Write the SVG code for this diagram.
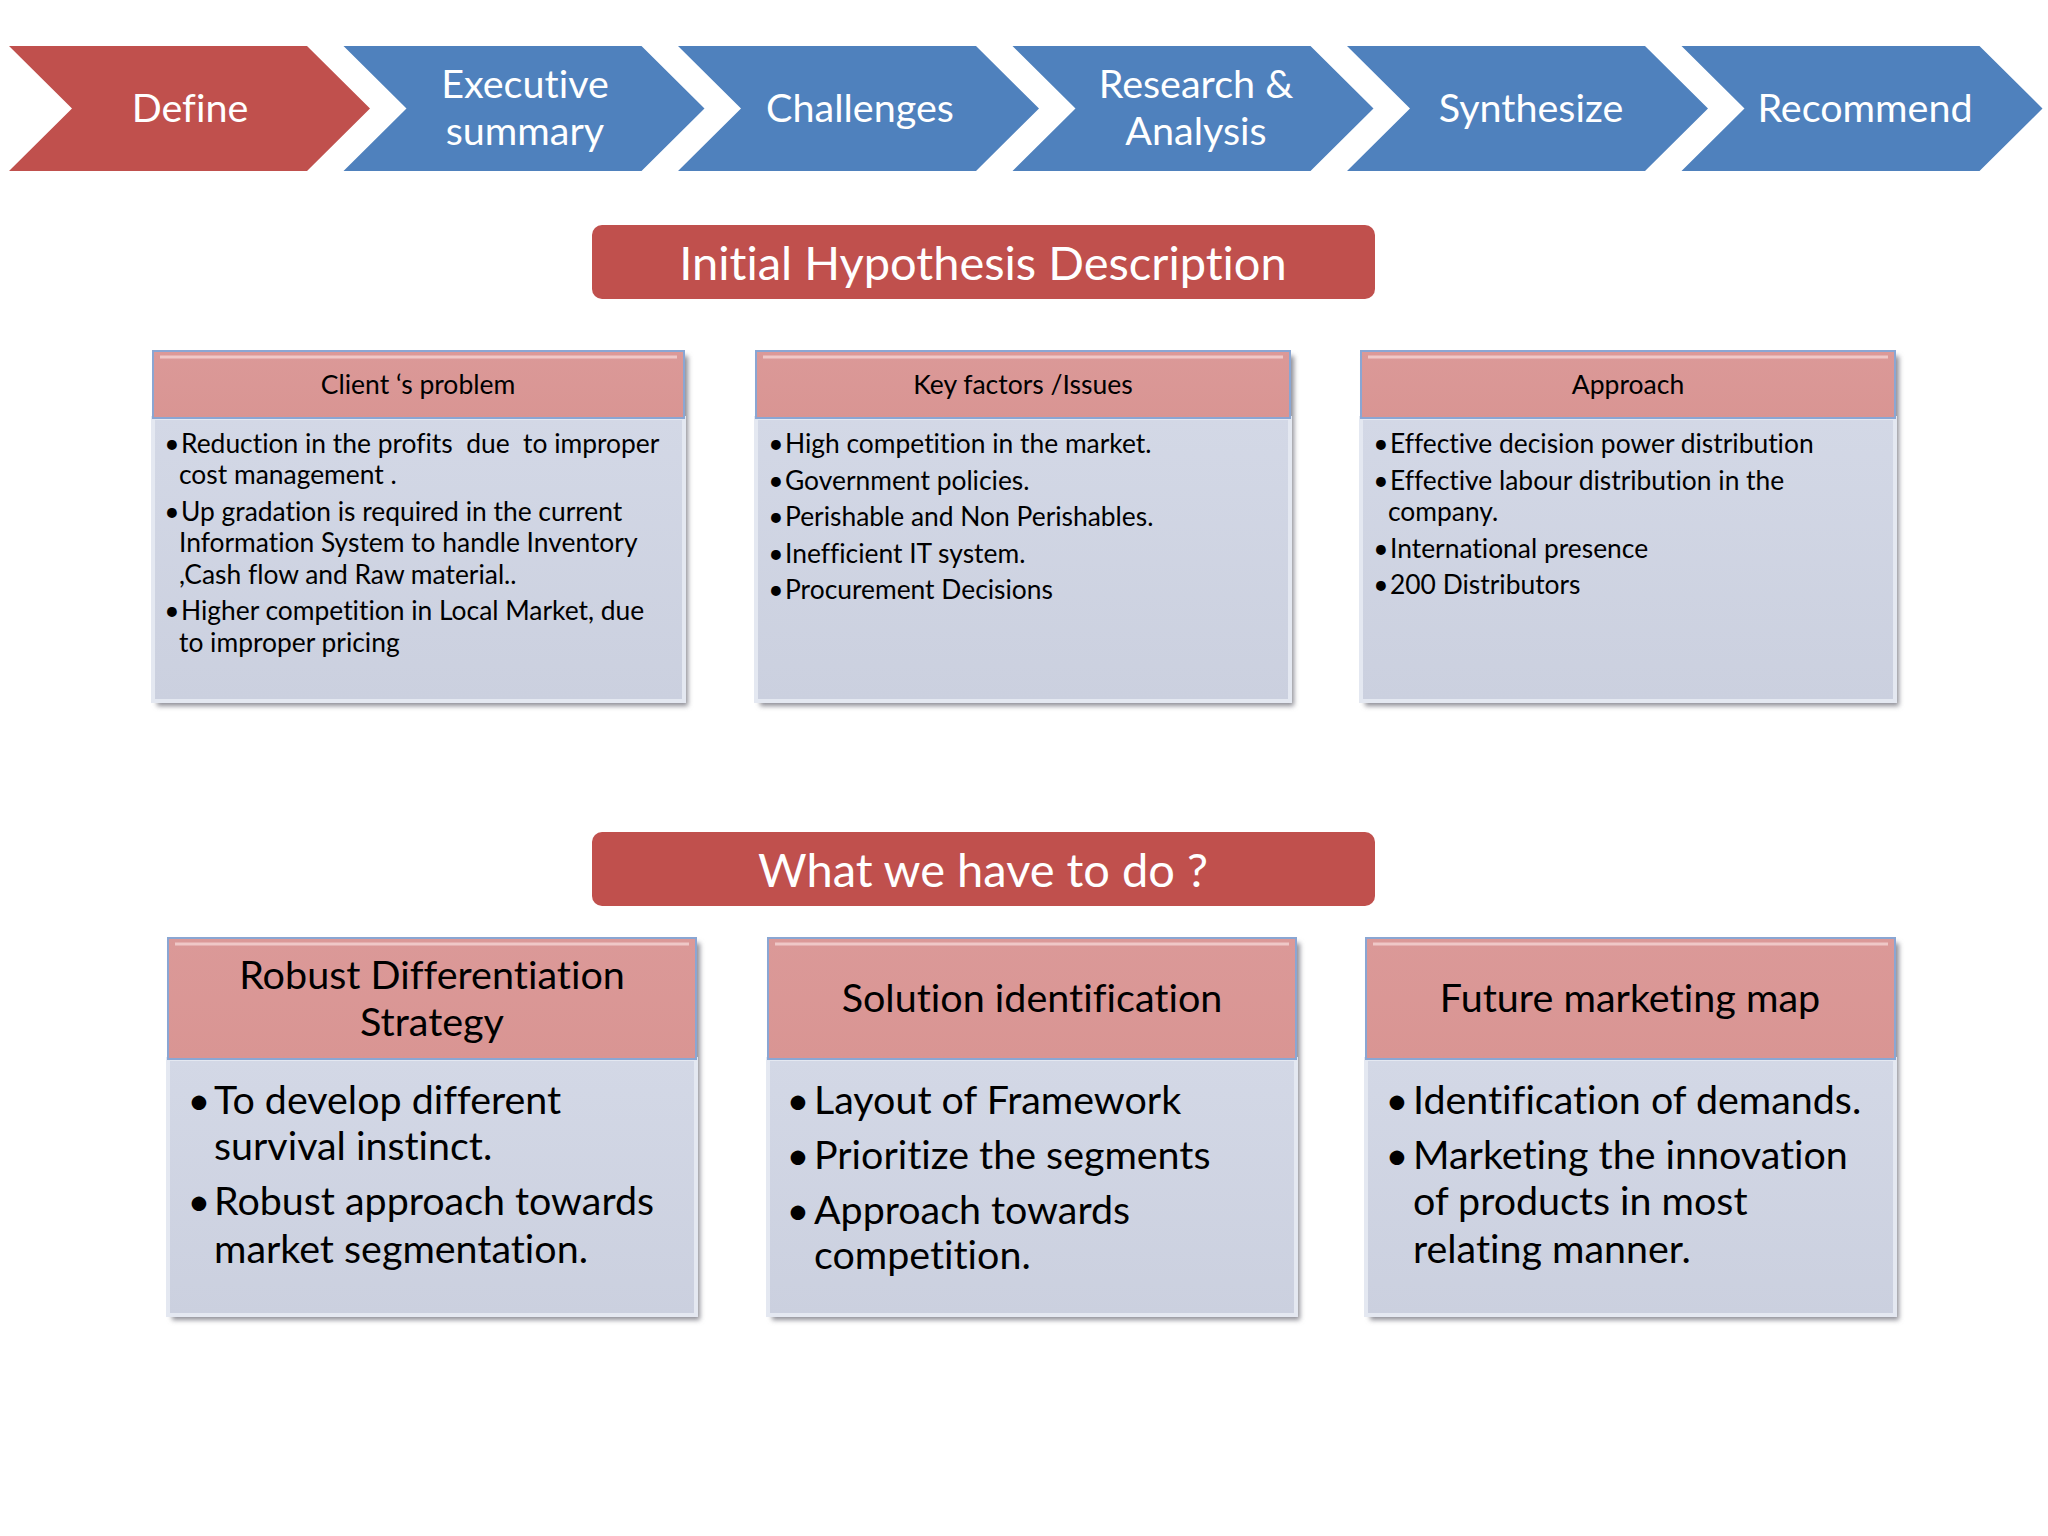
<svg xmlns="http://www.w3.org/2000/svg" width="2048" height="1536" viewBox="0 0 2048 1536">
<defs>
<style>
text{font-family:Lato,"Open Sans","Liberation Sans",sans-serif;white-space:pre;font-variant-ligatures:none;font-feature-settings:"liga" 0}
.chev-red{fill:#C0504D}
.chev-blue{fill:#4F81BD}
.chev-t{fill:#fff;font-size:39.5px;text-anchor:middle}
.title{fill:#C0504D}
.title-t{fill:#fff;font-size:47px;text-anchor:middle}
.hdr{fill:url(#hdrG);stroke:#8AA6D3;stroke-width:2}
.hdr-hl{fill:none;stroke:#EFC8C7;stroke-width:3}
.body{fill:url(#bodyG);stroke:#E4E8F1;stroke-width:4}
.shadow{fill:#8E8E96;filter:url(#blur)}
.h1{fill:#000;font-size:26.5px;text-anchor:middle}
.b1{fill:#000;font-size:26.4px}
.d1{fill:#000;font-size:26.4px;text-anchor:middle}
.h2{fill:#000;font-size:39.5px;text-anchor:middle}
.b2{fill:#000;font-size:39.4px}
.d2{fill:#000;font-size:39.4px;text-anchor:middle}
</style>
<linearGradient id="hdrG" x1="0" y1="0" x2="0" y2="1">
<stop offset="0" stop-color="#DB9998"/>
<stop offset="1" stop-color="#D99593"/>
</linearGradient>
<linearGradient id="bodyG" x1="0" y1="0" x2="0" y2="1">
<stop offset="0" stop-color="#D3D8E6"/>
<stop offset="1" stop-color="#CBD0DF"/>
</linearGradient>
<filter id="blur" x="-5%" y="-5%" width="110%" height="110%">
<feGaussianBlur stdDeviation="2.5"/>
</filter>
</defs>
<rect width="2048" height="1536" fill="#fff"/>

<g id="chevrons">
<g id="step-define">
<polygon class="chev-red" points="9,46 307,46 370,108.5 307,171 9,171 72,108.5"/>
<text class="chev-t" x="190" y="122">Define</text>
</g>
<g id="step-executive">
<polygon class="chev-blue" points="343.5,46 641.5,46 704.5,108.5 641.5,171 343.5,171 406.5,108.5"/>
<text class="chev-t" x="525" y="98">Executive</text>
<text class="chev-t" x="525" y="145">summary</text>
</g>
<g id="step-challenges">
<polygon class="chev-blue" points="678,46 976,46 1039,108.5 976,171 678,171 741,108.5"/>
<text class="chev-t" x="860" y="122">Challenges</text>
</g>
<g id="step-research">
<polygon class="chev-blue" points="1012.5,46 1310.5,46 1373.5,108.5 1310.5,171 1012.5,171 1075.5,108.5"/>
<text class="chev-t" x="1196" y="98">Research &amp;</text>
<text class="chev-t" x="1196" y="145">Analysis</text>
</g>
<g id="step-synthesize">
<polygon class="chev-blue" points="1347,46 1645,46 1708,108.5 1645,171 1347,171 1410,108.5"/>
<text class="chev-t" x="1531" y="122">Synthesize</text>
</g>
<g id="step-recommend">
<polygon class="chev-blue" points="1681.5,46 1979.5,46 2042.5,108.5 1979.5,171 1681.5,171 1744.5,108.5"/>
<text class="chev-t" x="1865" y="122">Recommend</text>
</g>
</g>

<g id="title-hypothesis">
<rect class="title" x="592" y="225" width="783" height="74" rx="10"/>
<text class="title-t" x="983" y="280">Initial Hypothesis Description</text>
</g>

<g id="box-client-problem">
<rect class="shadow" x="157" y="356" width="531" height="350"/>
<rect class="body" x="153" y="418" width="531" height="283"/>
<rect class="hdr" x="153" y="351" width="531" height="67"/>
<line class="hdr-hl" x1="160" y1="357" x2="677" y2="357"/>
<text class="h1" x="418" y="394">Client ‘s problem</text>
<text class="d1" x="172" y="453">•</text><text class="b1" x="181" y="453">Reduction in the profits  due  to improper</text>
<text class="b1" x="179" y="484">cost management .</text>
<text class="d1" x="172" y="521">•</text><text class="b1" x="181" y="521">Up gradation is required in the current</text>
<text class="b1" x="179" y="552">Information System to handle Inventory</text>
<text class="b1" x="179" y="584">,Cash flow and Raw material..</text>
<text class="d1" x="172" y="620">•</text><text class="b1" x="181" y="620">Higher competition in Local Market, due</text>
<text class="b1" x="179" y="652">to improper pricing</text>
</g>

<g id="box-key-factors">
<rect class="shadow" x="760" y="356" width="534" height="350"/>
<rect class="body" x="756" y="418" width="534" height="283"/>
<rect class="hdr" x="756" y="351" width="534" height="67"/>
<line class="hdr-hl" x1="763" y1="357" x2="1283" y2="357"/>
<text class="h1" x="1023" y="394">Key factors /Issues</text>
<text class="d1" x="776" y="453">•</text><text class="b1" x="785" y="453">High competition in the market.</text>
<text class="d1" x="776" y="490">•</text><text class="b1" x="785" y="490">Government policies.</text>
<text class="d1" x="776" y="526">•</text><text class="b1" x="785" y="526">Perishable and Non Perishables.</text>
<text class="d1" x="776" y="563">•</text><text class="b1" x="785" y="563">Inefficient IT system.</text>
<text class="d1" x="776" y="599">•</text><text class="b1" x="785" y="599">Procurement Decisions</text>
</g>

<g id="box-approach">
<rect class="shadow" x="1365" y="356" width="534" height="350"/>
<rect class="body" x="1361" y="418" width="534" height="283"/>
<rect class="hdr" x="1361" y="351" width="534" height="67"/>
<line class="hdr-hl" x1="1368" y1="357" x2="1888" y2="357"/>
<text class="h1" x="1628" y="394">Approach</text>
<text class="d1" x="1381" y="453">•</text><text class="b1" x="1390" y="453">Effective decision power distribution</text>
<text class="d1" x="1381" y="490">•</text><text class="b1" x="1390" y="490">Effective labour distribution in the</text>
<text class="b1" x="1388" y="521">company.</text>
<text class="d1" x="1381" y="558">•</text><text class="b1" x="1390" y="558">International presence</text>
<text class="d1" x="1381" y="594">•</text><text class="b1" x="1390" y="594">200 Distributors</text>
</g>

<g id="title-todo">
<rect class="title" x="592" y="832" width="783" height="74" rx="10"/>
<text class="title-t" x="983" y="887">What we have to do ?</text>
</g>

<g id="box-differentiation">
<rect class="shadow" x="172" y="943" width="528" height="377"/>
<rect class="body" x="168" y="1059" width="528" height="256"/>
<rect class="hdr" x="168" y="938" width="528" height="121"/>
<line class="hdr-hl" x1="175" y1="944" x2="689" y2="944"/>
<text class="h2" x="432" y="989">Robust Differentiation</text>
<text class="h2" x="432" y="1036">Strategy</text>
<text class="d2" x="199" y="1114">•</text><text class="b2" x="214" y="1114">To develop different</text>
<text class="b2" x="214" y="1160">survival instinct.</text>
<text class="d2" x="199" y="1215">•</text><text class="b2" x="214" y="1215">Robust approach towards</text>
<text class="b2" x="214" y="1263">market segmentation.</text>
</g>

<g id="box-solution">
<rect class="shadow" x="772" y="943" width="528" height="377"/>
<rect class="body" x="768" y="1059" width="528" height="256"/>
<rect class="hdr" x="768" y="938" width="528" height="121"/>
<line class="hdr-hl" x1="775" y1="944" x2="1289" y2="944"/>
<text class="h2" x="1032" y="1012">Solution identification</text>
<text class="d2" x="798" y="1114">•</text><text class="b2" x="814" y="1114">Layout of Framework</text>
<text class="d2" x="798" y="1169">•</text><text class="b2" x="814" y="1169">Prioritize the segments</text>
<text class="d2" x="798" y="1224">•</text><text class="b2" x="814" y="1224">Approach towards</text>
<text class="b2" x="814" y="1269">competition.</text>
</g>

<g id="box-future-marketing">
<rect class="shadow" x="1370" y="943" width="529" height="377"/>
<rect class="body" x="1366" y="1059" width="529" height="256"/>
<rect class="hdr" x="1366" y="938" width="529" height="121"/>
<line class="hdr-hl" x1="1373" y1="944" x2="1888" y2="944"/>
<text class="h2" x="1630" y="1012">Future marketing map</text>
<text class="d2" x="1397" y="1114">•</text><text class="b2" x="1413" y="1114">Identification of demands.</text>
<text class="d2" x="1397" y="1169">•</text><text class="b2" x="1413" y="1169">Marketing the innovation</text>
<text class="b2" x="1413" y="1215">of products in most</text>
<text class="b2" x="1413" y="1263">relating manner.</text>
</g>

<g id="connectors"/>
</svg>
